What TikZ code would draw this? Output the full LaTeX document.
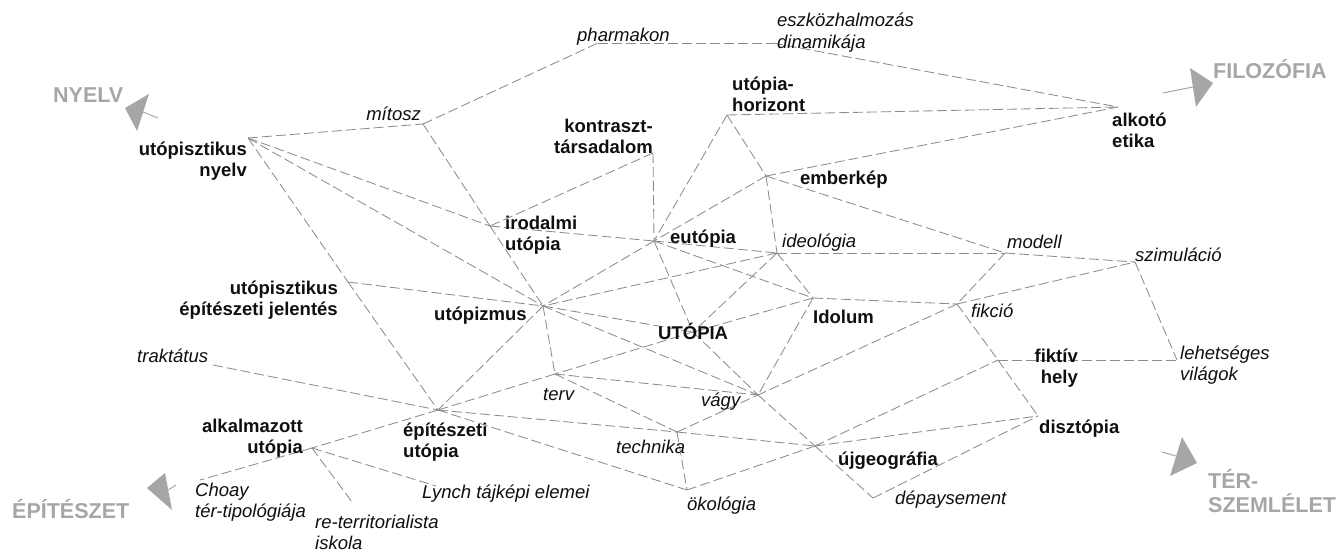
\documentclass[tikz,border=0pt]{standalone}
\usepackage{fontspec}
\setmainfont{Liberation Sans}
\definecolor{lnkgray}{RGB}{140,140,140}
\definecolor{hdgray}{RGB}{166,166,166}
\definecolor{txt}{RGB}{15,15,15}
\newcommand\twoL[3][21pt]{\vtop{\baselineskip=#1\halign{##\hfil\cr#2\cr#3\cr}}}
\newcommand\twoR[3][21pt]{\vtop{\baselineskip=#1\halign{\hfil##\cr#2\cr#3\cr}}}
\tikzset{
 lnk/.style={draw=lnkgray, line width=0.85pt, dash pattern=on 10pt off 4pt},
 bt/.style={font=\fontsize{18.5}{21}\selectfont\bfseries, text=txt, inner sep=0pt},
 itt/.style={font=\fontsize{18.5}{21}\selectfont\itshape, text=txt, inner sep=0pt},
 hd/.style={font=\fontsize{21.5}{24}\selectfont\bfseries, text=hdgray, inner sep=0pt},
 headtri/.style={fill=hdgray, draw=none},
 shaft/.style={draw=hdgray, line width=1pt},
}
\begin{document}
\begin{tikzpicture}[x=1pt,y=-1pt]
\useasboundingbox (0,0) rectangle (1340,554);
% junctions
\coordinate (UN) at (248,138);
\coordinate (M) at (423,124);
\coordinate (P) at (598,43);
\coordinate (E) at (773,43);
\coordinate (AE) at (1118,107);
\coordinate (UH) at (727,115);
\coordinate (KT) at (653,153);
\coordinate (EK) at (766,176);
\coordinate (IU) at (490,226);
\coordinate (EU) at (654,241);
\coordinate (ID) at (777,253);
\coordinate (MO) at (1005,253);
\coordinate (SZ) at (1135,262);
\coordinate (IDO) at (813,298);
\coordinate (FI) at (957,304);
\coordinate (UE) at (348,282);
\coordinate (UZ) at (543,306);
\coordinate (UT) at (693,332);
\coordinate (TR) at (213,365);
\coordinate (FH) at (998,360);
\coordinate (LV) at (1177,360);
\coordinate (TV) at (555,374);
\coordinate (VA) at (758,395);
\coordinate (EP) at (438,410);
\coordinate (DI) at (1038,416);
\coordinate (TE) at (677,432);
\coordinate (UG) at (815,446);
\coordinate (AU) at (312,448);
\coordinate (CH) at (200,480);
\coordinate (LY) at (436,486);
\coordinate (OK) at (687,490);
\coordinate (DP) at (873,498);
\coordinate (RT) at (352,502);
% connectors
\foreach \a/\b in {UN/M, M/P, P/E, E/AE, UH/AE, EK/AE,
  UN/IU, UN/UZ, UN/UE, UE/EP, M/IU, IU/UZ, KT/IU, KT/EU,
  UH/EU, UH/EK, EK/EU, EU/UZ, EK/ID, EK/MO, IU/EU,
  EU/ID, EU/UT, EU/IDO, ID/MO, MO/SZ, MO/FI, FI/SZ, SZ/LV, FH/LV,
  ID/IDO, ID/UT, ID/UZ, IDO/FI, IDO/UT, IDO/VA, FI/VA, FI/FH, FH/DI,
  UE/UZ, UZ/UT, UZ/VA, UZ/TV, UZ/EP, UT/TV, UT/VA,
  TV/EP, TV/VA, TV/TE, TR/EP, EP/TE, EP/OK, EP/AU, AU/CH,
  AU/RT, AU/LY, TE/VA, TE/OK, TE/UG, OK/UG, UG/FH, UG/DI,
  VA/UG, UG/DP, DP/DI}
  \draw[lnk] (\a) -- (\b);
% labels
\node[bt, anchor=base east] (l-un) at (247,155) {\twoR{utópisztikus}{nyelv}};
\node[itt, anchor=base east] (l-m) at (421,120) {mítosz};
\node[itt, anchor=base west] (l-p) at (577,41) {pharmakon};
\node[itt, anchor=base west] (l-e) at (777,27) {\twoL{eszközhalmozás}{dinamikája}};
\node[bt, anchor=base west] (l-uh) at (732,90) {\twoL{utópia-}{horizont}};
\node[bt, anchor=base east] (l-kt) at (653,132) {\twoR{kontraszt-}{társadalom}};
\node[bt, anchor=base west] (l-ae) at (1112,126) {\twoL{alkotó}{etika}};
\node[bt, anchor=base west] (l-ek) at (800,184) {emberkép};
\node[bt, anchor=base west] (l-iu) at (505,229) {\twoL{irodalmi}{utópia}};
\node[bt, anchor=base west] (l-eu) at (670,243) {eutópia};
\node[itt, anchor=base west] (l-id) at (782,247) {ideológia};
\node[itt, anchor=base west] (l-mo) at (1007,248) {modell};
\node[itt, anchor=base west] (l-sz) at (1135,261) {szimuláció};
\node[bt, anchor=base west] (l-ido) at (813,323) {Idolum};
\node[itt, anchor=base west] (l-fi) at (971,317) {fikció};
\node[bt, anchor=base east] (l-fh) at (1078,362) {\twoR{fiktív}{hely}};
\node[itt, anchor=base west] (l-lv) at (1180,359) {\twoL{lehetséges}{világok}};
\node[bt, anchor=base west] (l-di) at (1039,433) {disztópia};
\node[bt, anchor=base west] (l-ug) at (838,465) {újgeográfia};
\node[itt, anchor=base west] (l-dp) at (895,504) {dépaysement};
\node[itt, anchor=base west] (l-ok) at (687,510) {ökológia};
\node[itt, anchor=base west] (l-te) at (616,453) {technika};
\node[itt, anchor=base west] (l-va) at (701,406) {vágy};
\node[itt, anchor=base west] (l-tv) at (543,400) {terv};
\node[bt, anchor=base west] (l-ut) at (658,339) {UTÓPIA};
\node[bt, anchor=base west] (l-uz) at (434,320) {utópizmus};
\node[bt, anchor=base east] (l-ue) at (338,294) {\twoR{utópisztikus}{építészeti jelentés}};
\node[itt, anchor=base west] (l-tr) at (137,362) {traktátus};
\node[bt, anchor=base east] (l-au) at (303,432) {\twoR{alkalmazott}{utópia}};
\node[bt, anchor=base west] (l-ep) at (403,436) {\twoL{építészeti}{utópia}};
\node[itt, anchor=base west] (l-ch) at (195,496) {\twoL{Choay}{tér-tipológiája}};
\node[itt, anchor=base west] (l-rt) at (315,528) {\twoL{re-territorialista}{iskola}};
\node[itt, anchor=base west] (l-ly) at (422,498) {Lynch tájképi elemei};
% headings
\node[hd, anchor=base west] (h-ny) at (53,102) {NYELV};
\node[hd, anchor=base west] (h-fi) at (1213,78) {FILOZÓFIA};
\node[hd, anchor=base west] (h-ep) at (12,518) {ÉPÍTÉSZET};
\node[hd, anchor=base west] (h-te) at (1208,488) {\twoL[24pt]{TÉR-}{SZEMLÉLET}};
% arrows
\coordinate (nyA) at (125,108); \coordinate (nyB) at (149,94); \coordinate (nyC) at (137,131);
\coordinate (nyS) at (158,118); \coordinate (nyT) at (143,112);
\fill[headtri] (nyA) -- (nyB) -- (nyC) -- cycle;
\draw[shaft] (nyS) -- (nyT);
\coordinate (fiA) at (1213,83); \coordinate (fiB) at (1190,68); \coordinate (fiC) at (1196,107);
\coordinate (fiS) at (1163,93); \coordinate (fiT) at (1193,87);
\fill[headtri] (fiA) -- (fiB) -- (fiC) -- cycle;
\draw[shaft] (fiS) -- (fiT);
\coordinate (epA) at (147,488); \coordinate (epB) at (165,473); \coordinate (epC) at (172,510);
\coordinate (epS) at (176,485); \coordinate (epT) at (168,490);
\fill[headtri] (epA) -- (epB) -- (epC) -- cycle;
\draw[shaft] (epS) -- (epT);
\coordinate (teA) at (1197,463); \coordinate (teB) at (1182,437); \coordinate (teC) at (1170,476);
\coordinate (teS) at (1162,452); \coordinate (teT) at (1176,456);
\fill[headtri] (teA) -- (teB) -- (teC) -- cycle;
\draw[shaft] (teS) -- (teT);
\end{tikzpicture}
\end{document}
